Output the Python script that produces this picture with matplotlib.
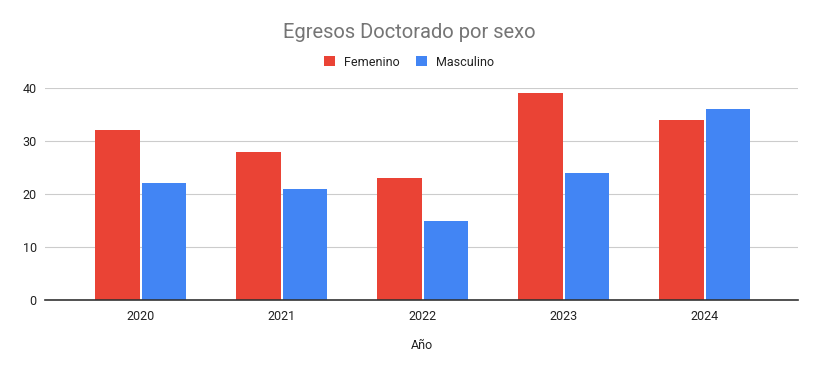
import numpy as np
import matplotlib.pyplot as plt

plt.rcParams['font.family'] = ['Roboto', 'DejaVu Sans']

#DATA
years = ["2020", "2021", "2022", "2023", "2024"]
femenino = [32, 28, 23, 39, 34]
masculino = [22, 21, 15, 24, 36]

fig = plt.figure(figsize=(8.18, 3.71), dpi=100)
ax = fig.add_axes([45 / 818, 1 - 300 / 371, (798 - 45) / 818, (300 - 88) / 371])

x = np.arange(len(years))
w = 0.315
gap = 0.007
ax.bar(x - w / 2 - gap, femenino, w, color="#EA4335", label="Femenino")
ax.bar(x + w / 2 + gap, masculino, w, color="#4285F4", label="Masculino")

ax.set_xlim(-0.68, 4.663)
ax.set_ylim(0, 40)
ax.set_yticks([0, 10, 20, 30, 40])
ax.set_xticks(x)
ax.set_xticklabels(years)
ax.grid(axis="y", color="#cccccc", linewidth=0.8)
ax.set_axisbelow(True)
for s in ["top", "right", "left"]:
    ax.spines[s].set_visible(False)
ax.spines["bottom"].set_color("#333333")
ax.spines["bottom"].set_linewidth(1.2)
ax.tick_params(axis="both", length=0, labelsize=9, labelcolor="#222222")
ax.tick_params(axis="x", pad=7)
ax.tick_params(axis="y", pad=6)

ax.set_xlabel("Año", fontsize=9, color="#222222", labelpad=12)

fig.text(0.5, 1 - 32 / 371, "Egresos Doctorado por sexo", ha="center", va="center",
         fontsize=14.5, color="#757575")
fig.legend(loc="center", bbox_to_anchor=(0.5, 1 - 62 / 371), ncol=2, frameon=False,
           fontsize=9, handlelength=0.9, handleheight=0.9, handletextpad=0.7,
           columnspacing=1.3, labelcolor="#222222")

plt.savefig("out.png", dpi=100)
